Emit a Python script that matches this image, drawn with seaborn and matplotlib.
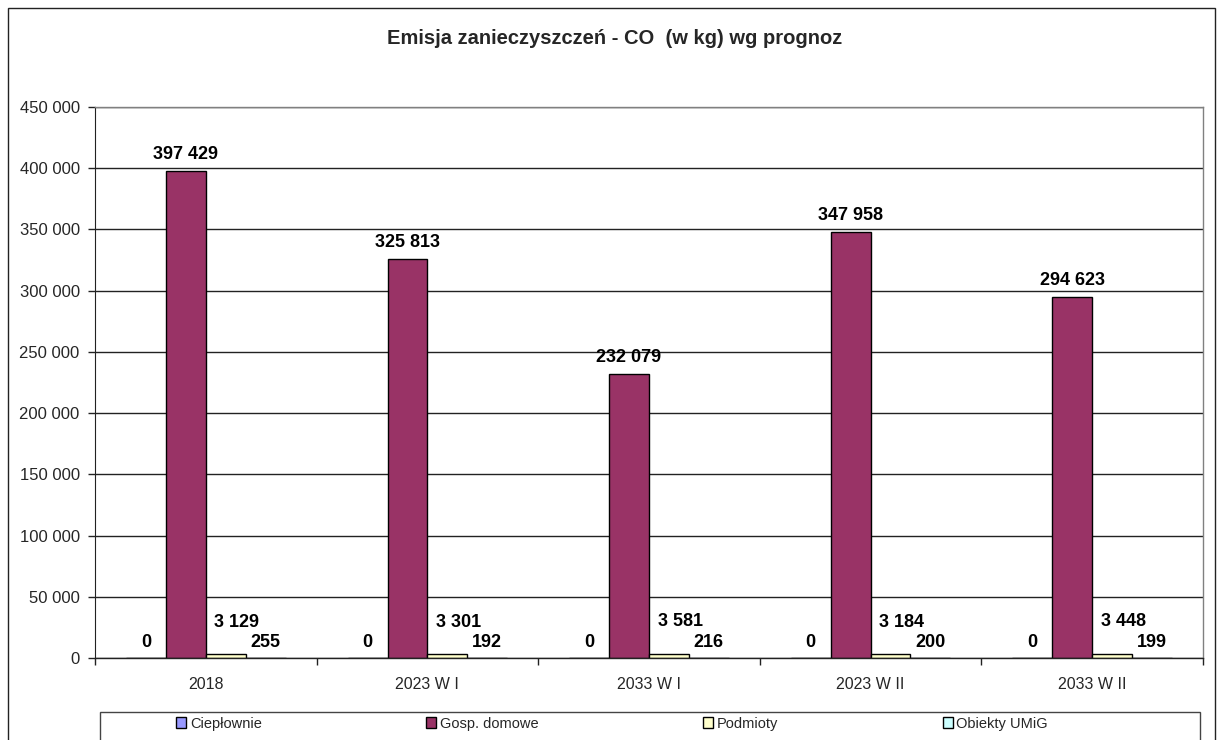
import matplotlib
matplotlib.use("Agg")
import matplotlib.pyplot as plt
import seaborn as sns
import pandas as pd
from matplotlib.patches import Rectangle
from matplotlib.ticker import FuncFormatter, MultipleLocator, FixedLocator

categories = ["2018", "2023 W I", "2033 W I", "2023 W II", "2033 W II"]
series = ["Ciepłownie", "Gosp. domowe", "Podmioty", "Obiekty UMiG"]
cieplownie = [0, 0, 0, 0, 0]
gosp_domowe = [397429, 325813, 232079, 347958, 294623]
podmioty = [3129, 3301, 3581, 3184, 3448]
obiekty_umig = [255, 192, 216, 200, 199]
colors = ["#9999FF", "#993366", "#FFFFCC", "#CCFFFF"]

rows = []
for name, vals in zip(series, [cieplownie, gosp_domowe, podmioty, obiekty_umig]):
    for c, v in zip(categories, vals):
        rows.append({"kategoria": c, "seria": name, "wartosc": v})
df = pd.DataFrame(rows)

sns.set_style("white")
plt.rcParams["font.family"] = ["Liberation Sans", "DejaVu Sans"]

W, H = 1222, 740
fig = plt.figure(figsize=(W / 100, H / 100), dpi=100)
ax = fig.add_axes([95 / W, (H - 658) / H, (1203 - 95) / W, (658 - 107) / H])

sns.barplot(data=df, x="kategoria", y="wartosc", hue="seria", order=categories,
            hue_order=series, palette=colors, saturation=1, width=0.72,
            edgecolor="black", linewidth=1, ax=ax, legend=False, errorbar=None)

ax.set_ylim(0, 450000)
ax.set_xlim(-0.5, len(categories) - 0.5)
ax.yaxis.set_major_locator(MultipleLocator(50000))
ax.yaxis.set_major_formatter(FuncFormatter(lambda v, p: f"{int(v):,}".replace(",", " ")))
ax.set_xlabel("")
ax.set_ylabel("")
ax.grid(axis="y", color="#222222", linewidth=1)
ax.set_axisbelow(True)

for side in ["top", "right", "bottom"]:
    ax.spines[side].set_color("#808080")
    ax.spines[side].set_linewidth(1)
ax.spines["left"].set_color("#222222")
ax.spines["bottom"].set_color("#222222")

ax.tick_params(axis="y", which="major", left=True, length=5, width=1, color="#222222",
               pad=6, labelsize=12)
ax.tick_params(axis="x", which="major", bottom=False, labelsize=11.5, pad=10)
ax.xaxis.set_minor_locator(FixedLocator([i + 0.5 for i in range(-1, len(categories))]))
ax.tick_params(axis="x", which="minor", bottom=True, length=5, width=1, color="#222222")

offsets = {
    "Ciepłownie": (0, 11),
    "Gosp. domowe": (0, 12),
    "Podmioty": (8, 23),
    "Obiekty UMiG": (0, 11),
}
for name, cont in zip(series, ax.containers):
    dx, dy = offsets[name]
    for bar in cont:
        h = bar.get_height()
        x = bar.get_x() + bar.get_width() / 2
        ax.annotate(f"{int(h):,}".replace(",", " "), xy=(x, h), xytext=(dx, dy),
                    textcoords="offset points", ha="center", va="center",
                    fontsize=13, fontweight="bold", color="black")

fig.text(615 / W, 1 - 38 / H, "Emisja zanieczyszczeń - CO  (w kg) wg prognoz",
         ha="center", va="center", fontsize=14.5, fontweight="bold")

# outer chart border
fig.patches.append(Rectangle((8 / W, -0.05), (1215 - 8) / W, 1.05 - 8 / H,
                             transform=fig.transFigure, fill=False,
                             edgecolor="#222222", linewidth=1))
# legend box
fig.patches.append(Rectangle((100 / W, -0.05), (1200 - 100) / W, 0.05 + (H - 712) / H,
                             transform=fig.transFigure, fill=False,
                             edgecolor="#444444", linewidth=1))

handles = [Rectangle((0, 0), 1, 1, facecolor=c, edgecolor="black", linewidth=1) for c in colors]
fig.legend(handles, series, loc="center left", ncol=4, mode="expand",
           bbox_to_anchor=(176 / W, 1 - 724 / H, (1048 - 176) / W, 0.001),
           frameon=False, fontsize=10.5, handlelength=0.7, handleheight=0.7,
           handletextpad=0.25, borderpad=0, borderaxespad=0)

fig.savefig("out.png", dpi=100)
